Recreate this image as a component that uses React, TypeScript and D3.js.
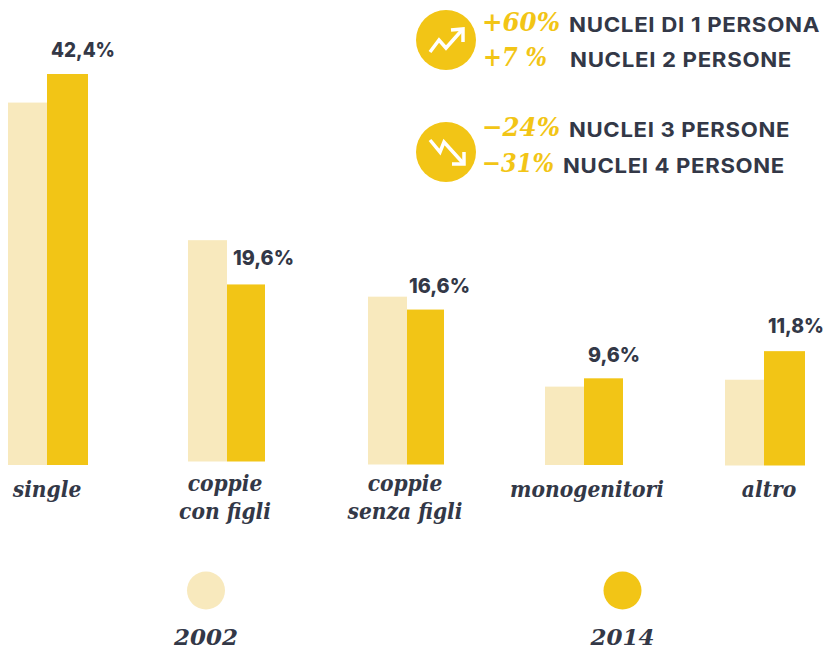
import React from "react";
import * as d3 from "d3";

// ---- data ----
const categories = ["single", "coppie con figli", "coppie senza figli", "monogenitori", "altro"];
const categoryLines = [["single"], ["coppie", "con figli"], ["coppie", "senza figli"], ["monogenitori"], ["altro"]];
const values2002 = [39.3, 24.0, 18.2, 8.5, 9.3];
const values2014 = [42.4, 19.2, 16.8, 9.4, 12.4];
const valueLabels = ["42,4%", "19,6%", "16,6%", "9,6%", "11,8%"];
const years = ["2002", "2014"];
const upPercent = ["+60%", "+7 %"];
const upText = ["NUCLEI DI 1 PERSONA", "NUCLEI 2 PERSONE"];
const downPercent = ["−24%", "−31%"];
const downText = ["NUCLEI 3 PERSONE", "NUCLEI 4 PERSONE"];

// ---- layout ----
const LIGHT = "#F8E9BD";
const GOLD = "#F2C516";
const INK = "#333847";
const SANS = "Inter, 'Noto Sans', sans-serif";
const SERIF = "'DejaVu Serif Condensed', 'DejaVu Serif', serif";
const groupX = [8, 188, 368, 545, 725];
const baseline = [465, 461.5, 464.5, 465, 465.5];
const lightW = 39;
const darkW = [41, 38, 37, 39, 41];
const labelX = [51, 233, 409, 588, 768];
const labelY = [57, 265, 293, 362, 333];
const labelW = [64, 61, 61, 52, 56];
const catX = [47, 225, 405, 587, 769];
const catY = [497, 491, 491, 497, 497];
const yearX = [206, 622.5];

const x = d3.scaleOrdinal<string, number>().domain(categories).range(groupX);
const h = d3.scaleLinear().domain([0, 42.4]).range([0, 391]);
const line = d3.line();

const pct = (t: string, px: number, py: number, w: number) => (
  <text x={px} y={py} textLength={w} lengthAdjust="spacingAndGlyphs" fontFamily={SERIF} fontStyle="italic" fontWeight={700} fontSize={26} fill={GOLD}>{t}</text>
);
const head = (t: string, px: number, py: number, w: number) => (
  <text x={px} y={py} textLength={w} lengthAdjust="spacingAndGlyphs" fontFamily={SANS} fontWeight={700} fontSize={20} letterSpacing={0.6} fill={INK}>{t}</text>
);

export default function App() {
  return (
    <svg width={826} height={651} style={{ position: "absolute", left: 0, top: 0, background: "#fff" }}>
      {categories.map((c, i) => {
        const x0 = x(c) as number;
        const hl = h(values2002[i]);
        const hd = h(values2014[i]);
        return (
          <g key={c}>
            <rect x={x0} y={baseline[i] - hl} width={lightW} height={hl} fill={LIGHT} />
            <rect x={x0 + lightW} y={baseline[i] - hd} width={darkW[i]} height={hd} fill={GOLD} />
            <text x={labelX[i]} y={labelY[i]} textLength={labelW[i]} lengthAdjust="spacingAndGlyphs" fontFamily={SANS} fontWeight={800} fontSize={20} fill={INK}>{valueLabels[i]}</text>
            {categoryLines[i].map((t, j) => (
              <text key={t} x={catX[i]} y={catY[i] + j * 28} textAnchor="middle" fontFamily={SERIF} fontStyle="italic" fontWeight={700} fontSize={22.5} fill={INK}>{t}</text>
            ))}
          </g>
        );
      })}

      {years.map((y, i) => (
        <g key={y}>
          <circle cx={yearX[i]} cy={590.5} r={19} fill={i === 0 ? LIGHT : GOLD} />
          <text x={yearX[i] - 32} y={645} textLength={64} lengthAdjust="spacingAndGlyphs" fontFamily={SERIF} fontStyle="italic" fontWeight={700} fontSize={22} fill={INK}>{y}</text>
        </g>
      ))}

      <circle cx={446} cy={40} r={30} fill={GOLD} />
      <g fill="none" stroke="#fff" strokeWidth={3.5}>
        <path d={line([[430, 52], [439, 40], [446, 48], [462, 30]]) as string} />
        <path d={line([[451, 30], [463, 29], [463, 42]]) as string} />
      </g>
      <circle cx={446} cy={152} r={30} fill={GOLD} />
      <g fill="none" stroke="#fff" strokeWidth={3.5}>
        <path d={line([[430, 140], [440, 152], [444, 142], [463, 163]]) as string} />
        <path d={line([[452, 164], [464, 164], [464, 152]]) as string} />
      </g>

      {pct(upPercent[0], 482, 31, 78)}
      {head(upText[0], 569, 32, 251)}
      {pct(upPercent[1], 483, 66, 64)}
      {head(upText[1], 570, 67, 222)}
      {pct(downPercent[0], 482, 136, 78)}
      {head(downText[0], 569, 137, 221)}
      {pct(downPercent[1], 482, 172, 72)}
      {head(downText[1], 563, 173, 222)}
    </svg>
  );
}
